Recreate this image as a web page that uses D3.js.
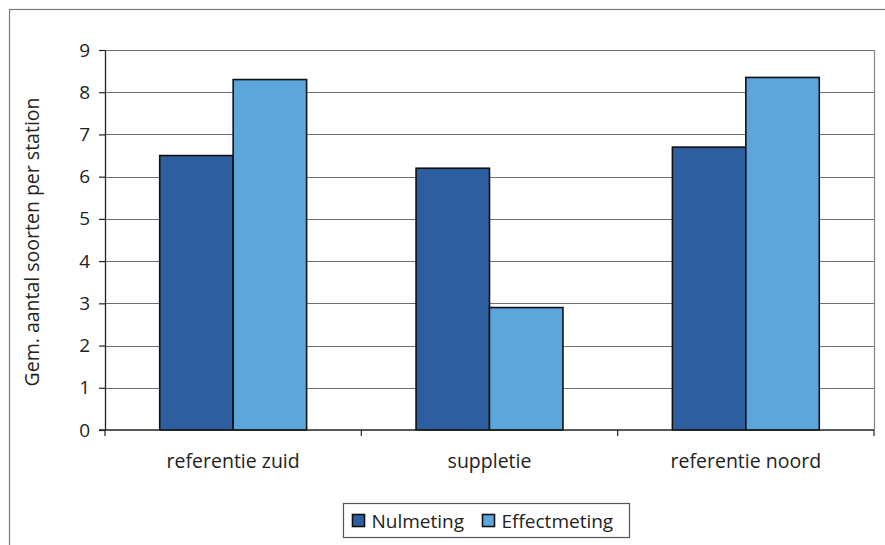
<!DOCTYPE html>
<html>
<head>
<meta charset="utf-8">
<script src="https://cdn.jsdelivr.net/npm/d3@7"></script>
<style>
  html, body { margin: 0; padding: 0; background: #fff; }
  svg { display: block; }
  text { font-family: "Open Sans", "Noto Sans", sans-serif; fill: #222; }
</style>
</head>
<body>
<svg id="chart" width="885" height="545"></svg>
<script>
// Average number of species per station, per area
const categories = ["referentie zuid", "suppletie", "referentie noord"];
const seriesNames = ["Nulmeting", "Effectmeting"];
const nulmeting = [6.5, 6.2, 6.7];
const effectmeting = [8.3, 2.9, 8.35];
const yTicks = [0, 1, 2, 3, 4, 5, 6, 7, 8, 9];
const yLabel = "Gem. aantal soorten per station";
const colors = ["#2d5e9f", "#5aa6dd"];

const svg = d3.select("#chart");
const W = 885, H = 545;
const m = { left: 105, right: 11, top: 50, bottom: 115 };

// outer frame
svg.append("rect")
  .attr("x", 9.5).attr("y", 9.5)
  .attr("width", W - 9.5 + 5).attr("height", H - 9.5 + 5)
  .attr("fill", "none").attr("stroke", "#777").attr("stroke-width", 1.2);

const x0 = d3.scaleBand().domain(categories).range([m.left, W - m.right]);
const x1 = d3.scaleBand().domain(seriesNames)
  .range([0, x0.bandwidth()]).paddingOuter(0.745);
const y = d3.scaleLinear().domain([0, 9]).range([H - m.bottom, m.top]);

// horizontal gridlines
svg.append("g").selectAll("line").data(yTicks.slice(1)).join("line")
  .attr("x1", m.left).attr("x2", W - m.right)
  .attr("y1", d => Math.round(y(d)) + 0.5).attr("y2", d => Math.round(y(d)) + 0.5)
  .attr("stroke", "#6e6e6e").attr("stroke-width", 1.2);

// right edge of plot area
svg.append("line")
  .attr("x1", W - m.right + 0.5).attr("x2", W - m.right + 0.5)
  .attr("y1", y(9)).attr("y2", y(0))
  .attr("stroke", "#888").attr("stroke-width", 1.2);

// bars
const rows = categories.map((c, i) => ({ cat: c, vals: [nulmeting[i], effectmeting[i]] }));
const groups = svg.append("g").selectAll("g").data(rows).join("g")
  .attr("transform", d => `translate(${x0(d.cat)},0)`);
groups.selectAll("rect")
  .data(d => d.vals.map((v, j) => ({ name: seriesNames[j], v, j })))
  .join("rect")
  .attr("x", d => x1(d.name))
  .attr("width", x1.bandwidth())
  .attr("y", d => y(d.v))
  .attr("height", d => y(0) - y(d.v))
  .attr("fill", d => colors[d.j])
  .attr("stroke", "#111").attr("stroke-width", 1.6);

// y axis
const yAxis = svg.append("g")
  .attr("transform", `translate(${m.left},0)`)
  .call(d3.axisLeft(y).tickValues(yTicks).tickSize(6).tickPadding(9).tickSizeOuter(0));
yAxis.select(".domain").attr("stroke", "#222").attr("stroke-width", 1.3);
yAxis.selectAll(".tick line").attr("stroke", "#222").attr("stroke-width", 1.2);
yAxis.selectAll(".tick text")
  .style("font-family", "'Open Sans', sans-serif").style("font-size", "19px").attr("fill", "#222");

// x axis with category separators
const xAxis = svg.append("g").attr("transform", `translate(0,${y(0)})`);
xAxis.append("line")
  .attr("x1", m.left - 6).attr("x2", W - m.right)
  .attr("stroke", "#222").attr("stroke-width", 1.4);
const seps = categories.map(c => x0(c)).concat([W - m.right]);
xAxis.selectAll("line.sep").data(seps).join("line").attr("class", "sep")
  .attr("x1", d => d).attr("x2", d => d).attr("y1", 0).attr("y2", 6)
  .attr("stroke", "#222").attr("stroke-width", 1.2);
xAxis.selectAll("text").data(categories).join("text")
  .attr("x", d => x0(d) + x0.bandwidth() / 2)
  .attr("y", 38)
  .attr("text-anchor", "middle")
  .style("font-size", "19.5px")
  .text(d => d);

// y axis title
svg.append("text")
  .attr("transform", `translate(39,${(y(0) + y(9)) / 2 + 2}) rotate(-90)`)
  .attr("text-anchor", "middle")
  .style("font-size", "19.5px")
  .text(yLabel);

// legend
const lg = svg.append("g").attr("transform", "translate(343.5,503.5)");
lg.append("rect").attr("width", 286).attr("height", 34)
  .attr("fill", "#fff").attr("stroke", "#555").attr("stroke-width", 1.2);
const items = [{ name: seriesNames[0], x: 9 }, { name: seriesNames[1], x: 139 }];
items.forEach((it, i) => {
  lg.append("rect").attr("x", it.x).attr("y", 11).attr("width", 12).attr("height", 12)
    .attr("fill", colors[i]).attr("stroke", "#111").attr("stroke-width", 1.6);
  lg.append("text").attr("x", it.x + 19).attr("y", 24.5)
    .style("font-size", "19px").text(it.name);
});
</script>
</body>
</html>
